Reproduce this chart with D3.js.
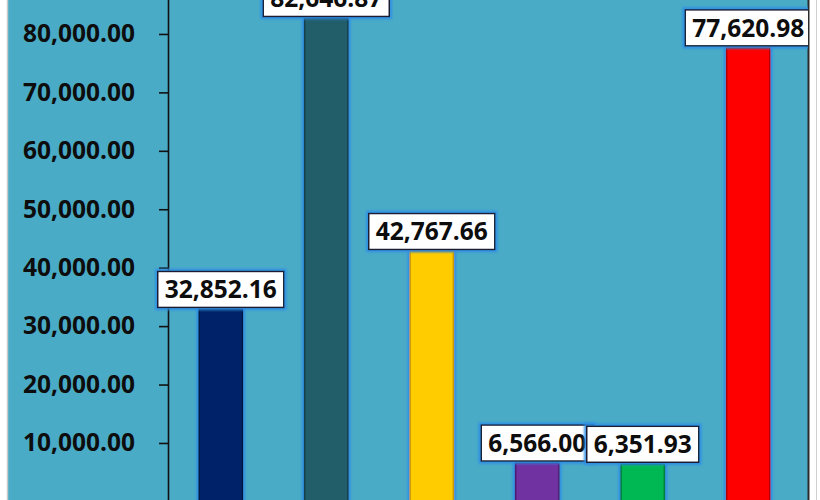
<!DOCTYPE html>
<html>
<head>
<meta charset="utf-8">
<script src="https://cdn.jsdelivr.net/npm/d3@7"></script>
<style>
  html, body { margin: 0; padding: 0; background: #ffffff; }
  svg { display: block; }
</style>
</head>
<body>
<svg id="chart" width="820" height="500"></svg>
<script>
// ---- data ----
const categories = ["Item 1", "Item 2", "Item 3", "Item 4", "Item 5", "Item 6"];
const values = [32852.16, 82646.87, 42767.66, 6566.00, 6351.93, 77620.98];
const barColors = ["#042467", "#245D6B", "#FFCC00", "#7030A0", "#00B852", "#FF0000"];
const barEdges = ["#021640", "#163F4A", "#C79A00", "#4E1F72", "#00803A", "#B00000"];
const yTicks = [10000, 20000, 30000, 40000, 50000, 60000, 70000, 80000];

const W = 820, H = 500;
const svg = d3.select("#chart");
const defs = svg.append("defs");

// glow filter for bars & labels
const glow = defs.append("filter").attr("id", "glow")
  .attr("x", "-30%").attr("y", "-30%").attr("width", "160%").attr("height", "160%");
glow.append("feMorphology").attr("in", "SourceAlpha").attr("operator", "dilate").attr("radius", 1.5).attr("result", "d");
glow.append("feGaussianBlur").attr("in", "d").attr("stdDeviation", 1.2).attr("result", "b");
glow.append("feFlood").attr("flood-color", "#2E8EE6").attr("flood-opacity", 0.9).attr("result", "c");
glow.append("feComposite").attr("in", "c").attr("in2", "b").attr("operator", "in").attr("result", "g");
const gm = glow.append("feMerge");
gm.append("feMergeNode").attr("in", "g");
gm.append("feMergeNode").attr("in", "SourceGraphic");

// clip area for plot
defs.append("clipPath").attr("id", "plotclip")
  .append("rect").attr("x", 8).attr("y", 0).attr("width", 800).attr("height", H);

// frame / background
svg.append("rect").attr("x", 0).attr("y", 0).attr("width", W).attr("height", H).attr("fill", "#ffffff");
svg.append("rect").attr("x", 8).attr("y", 0).attr("width", 800).attr("height", H).attr("fill", "#4AABC6");
svg.append("line").attr("x1", 7.5).attr("x2", 7.5).attr("y1", 0).attr("y2", H).attr("stroke", "#c9c9c9").attr("stroke-width", 1.5);
svg.append("line").attr("x1", 808.5).attr("x2", 808.5).attr("y1", 0).attr("y2", H).attr("stroke", "#2b2b2b").attr("stroke-width", 2);
svg.append("line").attr("x1", 816.5).attr("x2", 816.5).attr("y1", 0).attr("y2", H).attr("stroke", "#d0d0d0").attr("stroke-width", 1);

// scales
const x = d3.scaleBand().domain(categories).range([168, 801]).paddingInner(0.59).paddingOuter(0.295);
const y = d3.scaleLinear().domain([0, 90000]).range([501.4, 501.4 - 9 * 58.43]);

const plot = svg.append("g").attr("clip-path", "url(#plotclip)");

// y axis
const yAxis = d3.axisLeft(y).tickValues(yTicks).tickSize(9).tickSizeOuter(0).tickPadding(24)
  .tickFormat(d3.format(",.2f"));
const ag = plot.append("g").attr("transform", "translate(168,0)").call(yAxis);
ag.select(".domain").attr("stroke", "#111").attr("stroke-width", 1.6);
ag.selectAll(".tick line").attr("stroke", "#111").attr("stroke-width", 1.6);
ag.selectAll(".tick text")
  .attr("fill", "#0d0d0d")
  .style("font-family", "'Open Sans', sans-serif")
  .style("font-weight", "700")
  .style("font-size", "24.5px");

// bars
const data = categories.map((c, i) => ({ c, v: values[i], col: barColors[i], edge: barEdges[i] }));
const bars = plot.append("g");
bars.selectAll("rect.bar").data(data).enter().append("rect")
  .attr("class", "bar")
  .attr("x", d => x(d.c))
  .attr("y", d => y(d.v))
  .attr("width", x.bandwidth())
  .attr("height", d => y(0) - y(d.v) + 5)
  .attr("fill", d => d.col)
  .attr("stroke", d => d.edge)
  .attr("stroke-width", 1.6)
  .attr("filter", "url(#glow)");

// labels
const fmt = d3.format(",.2f");
const lg = plot.append("g");
data.forEach(d => {
  const g = lg.append("g");
  const cx = x(d.c) + x.bandwidth() / 2;
  const bottom = y(d.v) - 2;
  const boxH = 36;
  const rect = g.append("rect").attr("fill", "#ffffff").attr("stroke", "#1a1f33").attr("stroke-width", 1.5)
    .attr("filter", "url(#glow)");
  const t = g.append("text")
    .attr("x", cx)
    .attr("y", bottom - boxH / 2)
    .attr("dy", "0.36em")
    .attr("text-anchor", "middle")
    .attr("fill", "#0d0d0d")
    .style("font-family", "'Open Sans', sans-serif")
    .style("font-weight", "700")
    .style("font-size", "24.5px")
    .text(fmt(d.v));
  const tw = t.node().getComputedTextLength();
  const bw = tw + 14;
  rect.attr("x", cx - bw / 2).attr("y", bottom - boxH).attr("width", bw).attr("height", boxH);
});
</script>
</body>
</html>
